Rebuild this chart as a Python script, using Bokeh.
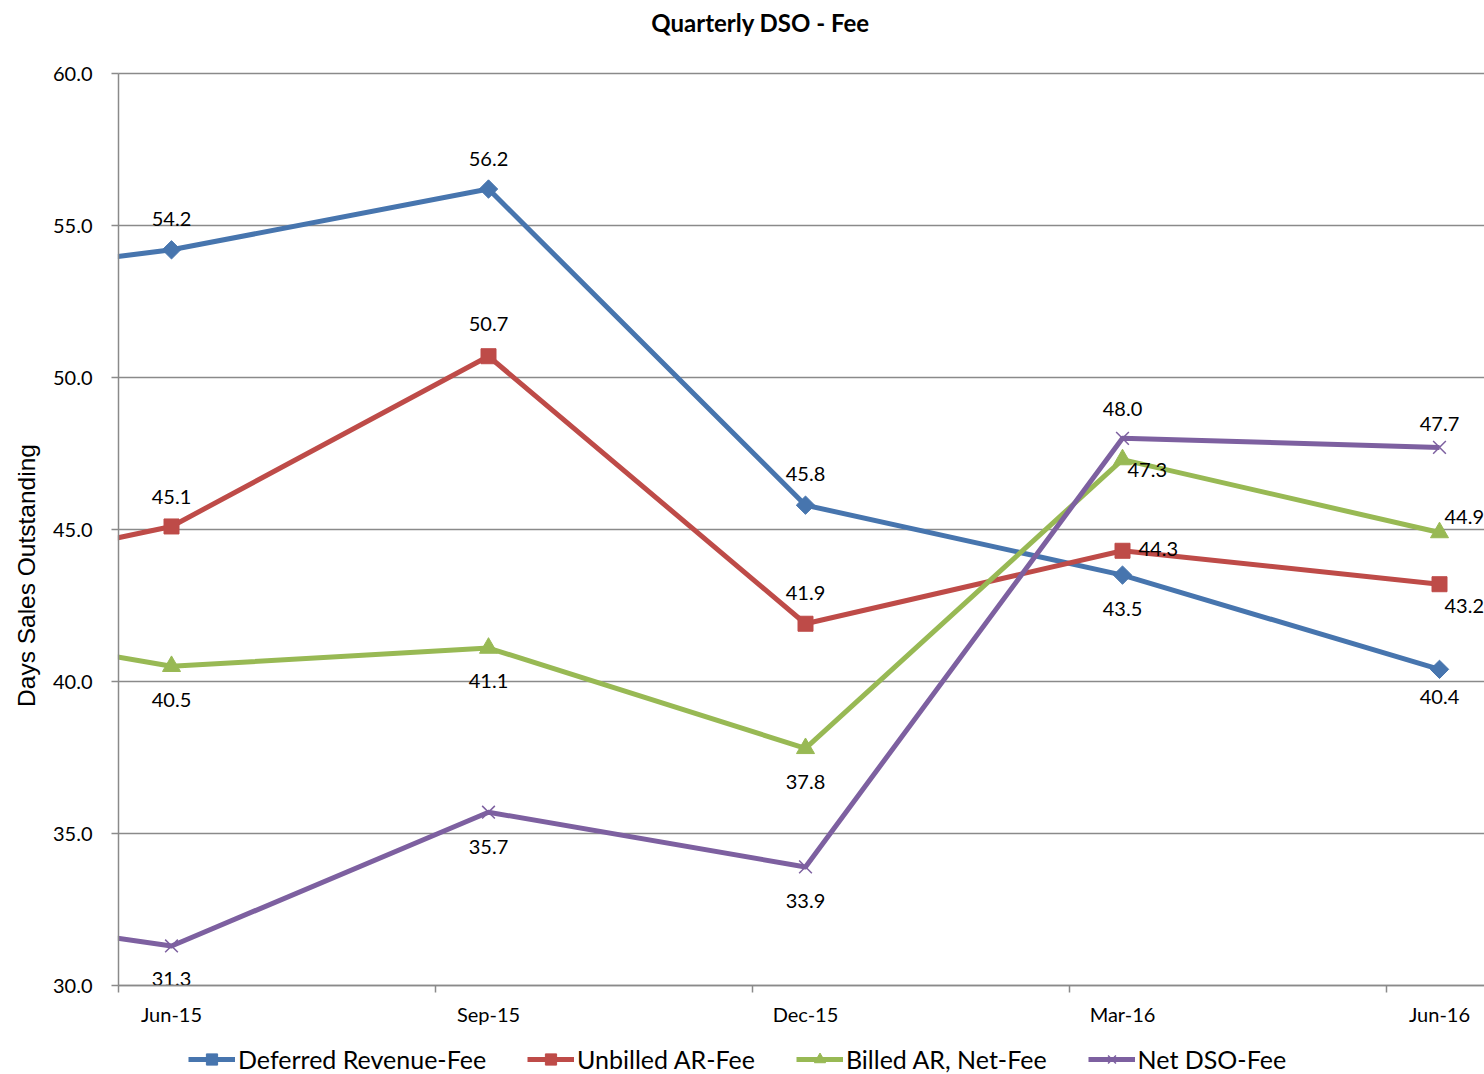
import math
from bokeh.plotting import figure
from bokeh.models import (Range1d, FixedTicker, Legend, LegendItem,
                          ColumnDataSource, NumeralTickFormatter)
from bokeh.core.properties import value
from bokeh.embed import file_html
from bokeh.resources import INLINE

# ---------------- data ----------------
quarters = ["Mar-15", "Jun-15", "Sep-15", "Dec-15", "Mar-16", "Jun-16"]
deferred_revenue = [52.9, 54.2, 56.2, 45.8, 43.5, 40.4]
unbilled_ar = [42.9, 45.1, 50.7, 41.9, 44.3, 43.2]
billed_ar_net = [42.3, 40.5, 41.1, 37.8, 47.3, 44.9]
net_dso = [32.8, 31.3, 35.7, 33.9, 48.0, 47.7]
series_names = ["Deferred Revenue-Fee", "Unbilled AR-Fee", "Billed AR, Net-Fee", "Net DSO-Fee"]
y_ticks = [30, 35, 40, 45, 50, 55, 60]
chart_title = "Quarterly DSO - Fee"
y_title = "Days Sales Outstanding"

# ---------------- layout / style ----------------
W, H = 1484, 1074
LEFT, TOP, BOTTOM = 118, 73, 985          # plot-area edges in pixels
CAT_PX = 317.0                            # pixels per quarter
X0 = -53.0 / CAT_PX                       # data x at the plot-area left edge
Y0, Y1 = 30, 60
PX_PER_Y = (BOTTOM - TOP) / (Y1 - Y0)

def xdata(px):
    return X0 + (px - LEFT) / CAT_PX

def ydata(py):
    return Y1 - (py - TOP) / PX_PER_Y

FONT = "Lato"
GRID = "#8a8a8a"
colors = ["#4775AE", "#BE4B48", "#98B954", "#7D60A0"]
markers = ["square", "square", "triangle", "x"]
marker_angles = [math.pi / 4, 0, 0, 0]
marker_sizes = [13, 15, 18, 18]
# per-label placement: (align, dx px, dy px) for visible points Jun-15..Jun-16
label_place = [
    [("c", 0, -31), ("c", 0, -30), ("c", 0, -31), ("c", 0, 34), ("c", 0, 28)],
    [("c", 0, -29), ("c", 0, -32), ("c", 0, -31), ("l", 16, -2), ("l", 5, 22)],
    [("c", 0, 34), ("c", 0, 33), ("c", 0, 34), ("l", 5, 10), ("l", 5, -16)],
    [("c", 0, 33), ("c", 0, 35), ("c", 0, 34), ("c", 0, -29), ("c", 0, -23)],
]

xs = [i - 1 for i in range(len(quarters))]
series = [deferred_revenue, unbilled_ar, billed_ar_net, net_dso]

p = figure(width=W, height=H,
           x_range=Range1d(xdata(0), xdata(W)), y_range=Range1d(ydata(H), ydata(0)),
           output_backend="svg", toolbar_location=None, min_border=0)
p.title.visible = False
p.outline_line_color = None
p.background_fill_color = "white"
p.border_fill_color = "white"

# grid
p.xgrid.visible = False
p.ygrid.ticker = FixedTicker(ticks=y_ticks)
p.ygrid.grid_line_color = GRID
p.ygrid.grid_line_width = 1.5
p.ygrid.bounds = (Y0, Y1)
grid_model = p.ygrid[0]
if "cross_bounds" in grid_model.properties():
    grid_model.cross_bounds = (X0, xdata(W))
else:
    p.ygrid.visible = False
    p.segment(x0=X0, x1=xdata(W), y0=y_ticks, y1=y_ticks,
              line_color=GRID, line_width=1.5, level="underlay")

# y axis (fixed at the plot-area's left edge)
p.yaxis.fixed_location = X0
p.yaxis.bounds = (Y0, Y1)
p.yaxis.ticker = FixedTicker(ticks=y_ticks)
p.yaxis.formatter = NumeralTickFormatter(format="0.0")
p.yaxis.axis_line_color = GRID
p.yaxis.axis_line_width = 1.5
p.yaxis.major_tick_line_color = GRID
p.yaxis.major_tick_line_width = 1.5
p.yaxis.major_tick_out = 7
p.yaxis.major_tick_in = 0
p.yaxis.minor_tick_line_color = None
p.yaxis.major_label_standoff = 19
p.yaxis.major_label_text_font = FONT
p.yaxis.major_label_text_font_size = "20px"
p.yaxis.major_label_text_color = "black"

# x axis (fixed at y = 30)
p.xaxis.fixed_location = Y0
p.xaxis.bounds = (X0, xdata(W))
p.xaxis.ticker = FixedTicker(ticks=list(range(len(quarters) - 1)),
                             minor_ticks=[X0 + k for k in range(len(quarters))])
p.xaxis.major_label_overrides = {i: q for i, q in enumerate(quarters[1:])}
p.xaxis.axis_line_color = GRID
p.xaxis.axis_line_width = 1.5
p.xaxis.major_tick_line_color = None
p.xaxis.major_tick_out = 0
p.xaxis.major_tick_in = 0
p.xaxis.minor_tick_line_color = GRID
p.xaxis.minor_tick_line_width = 1.5
p.xaxis.minor_tick_out = 7
p.xaxis.minor_tick_in = 0
p.xaxis.major_label_standoff = 9
p.xaxis.major_label_text_font = FONT
p.xaxis.major_label_text_font_size = "20px"
p.xaxis.major_label_text_color = "black"

items = []
for k, vals in enumerate(series):
    src = ColumnDataSource(dict(x=xs, y=vals))
    lr = p.line("x", "y", source=src, line_color=colors[k], line_width=5,
                line_join="round")
    if markers[k] == "x":
        sr = p.scatter("x", "y", source=src, marker="x", size=marker_sizes[k],
                       line_color=colors[k], line_width=1.5)
    else:
        sr = p.scatter("x", "y", source=src, marker=markers[k], size=marker_sizes[k],
                       angle=marker_angles[k], fill_color=colors[k],
                       line_color=colors[k], line_width=1)
    items.append(LegendItem(label=series_names[k], renderers=[lr, sr]))

    for align in ("c", "l"):
        lx, ly, lt, dx, dy = [], [], [], [], []
        for j in range(1, len(quarters)):
            a, ox, oy = label_place[k][j - 1]
            if a != align:
                continue
            lx.append(xs[j]); ly.append(vals[j]); lt.append(f"{vals[j]:.1f}")
            dx.append(ox); dy.append(oy)
        if not lx:
            continue
        lsrc = ColumnDataSource(dict(x=lx, y=ly, t=lt, dx=dx, dy=dy))
        p.text("x", "y", text="t", source=lsrc, x_offset="dx", y_offset="dy",
               text_align="center" if align == "c" else "left",
               text_baseline="middle", text_font=value(FONT),
               text_font_size="20px", text_color="black")

# the part of the lines left of the plot area (from Mar-15) is masked in white
p.varea(x=[xdata(-400), X0 - 0.002], y1=[ydata(H + 50), ydata(H + 50)],
        y2=[ydata(-50), ydata(-50)], fill_color="white", level="glyph")
# thin strip at the very left edge, drawn last
p.varea(x=[xdata(-60), xdata(8)], y1=[ydata(H + 50), ydata(H + 50)],
        y2=[ydata(-50), ydata(-50)], fill_color="white", level="overlay")

# chart title and y-axis title
p.text(x=[xdata(760)], y=[ydata(22)], text=[chart_title], text_align="center",
       text_baseline="middle", text_font=value(FONT), text_font_style="bold",
       text_font_size="24px", text_color="black")
p.text(x=[xdata(26)], y=[ydata(575)], text=[y_title], angle=math.pi / 2,
       text_align="center", text_baseline="middle",
       text_font=value("Liberation Sans"), text_font_size="24.5px",
       text_color="black")

legend = Legend(items=items, orientation="horizontal", location=(188, 0),
                glyph_width=47, glyph_height=28, label_height=28,
                label_standoff=3, spacing=41, padding=0, margin=0,
                border_line_color=None, background_fill_alpha=0,
                label_text_font=FONT, label_text_font_size="25px",
                label_text_color="black")
p.add_layout(legend, "center")

open("out.html", "w").write(file_html(p, INLINE))
